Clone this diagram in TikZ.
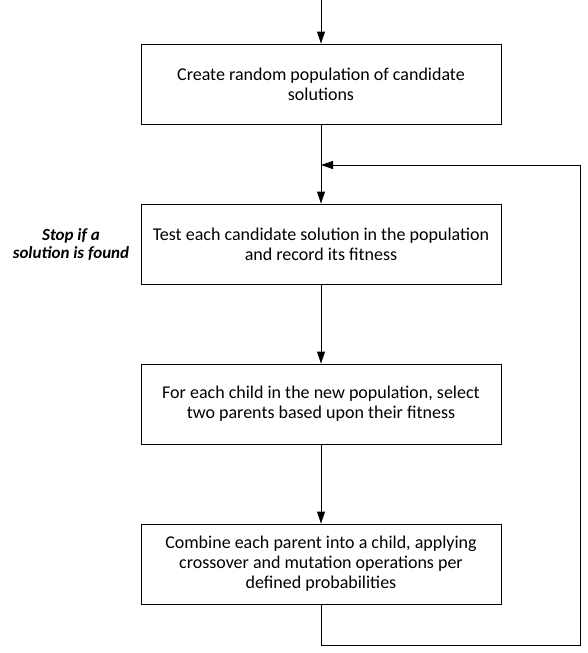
\documentclass[tikz,border=0pt]{standalone}
\usepackage{fontspec}
\setmainfont{Carlito}
\usetikzlibrary{arrows.meta, positioning}
\tikzstyle{arrow} = [line width=0.9pt, -{Triangle[length=12pt,width=8pt]}]

\begin{document}
\begin{tikzpicture}[x=1pt, y=-1pt,
    stepbox/.style={rectangle, draw, line width=0.9pt, minimum width=360pt,
                    minimum height=80pt, inner sep=0pt, align=center,
                    font=\fontsize{18}{20}\selectfont},
    note/.style={align=center, font=\fontsize{17}{18}\selectfont\bfseries\itshape}]

  \useasboundingbox (0,0) rectangle (588,653);

  \coordinate (entry)  at (321,0);
  \coordinate (ret)    at (321,165);
  \coordinate (loopbr) at (580,645);
  \coordinate (looptr) at (580,165);

  \node[stepbox] (create)  at (321, 84) {Create random population of candidate\\solutions};
  \node[stepbox] (test)    at (321,244) {Test each candidate solution in the population\\and record its fitness};
  \node[stepbox] (select)  at (321,404) {For each child in the new population, select\\two parents based upon their fitness};
  \node[stepbox] (combine) at (321,564) {Combine each parent into a child, applying\\crossover and mutation operations per\\defined probabilities};
  \node[note]    (stop)    at (71,245)  {Stop if a\\solution is found};

  \draw[arrow] (entry)--(create);
  \draw[arrow] (create)--(test);
  \draw[arrow] (test)--(select);
  \draw[arrow] (select)--(combine);
  \draw[arrow] (combine.south) |- (loopbr) -- (looptr) -- (ret);
\end{tikzpicture}
\end{document}
